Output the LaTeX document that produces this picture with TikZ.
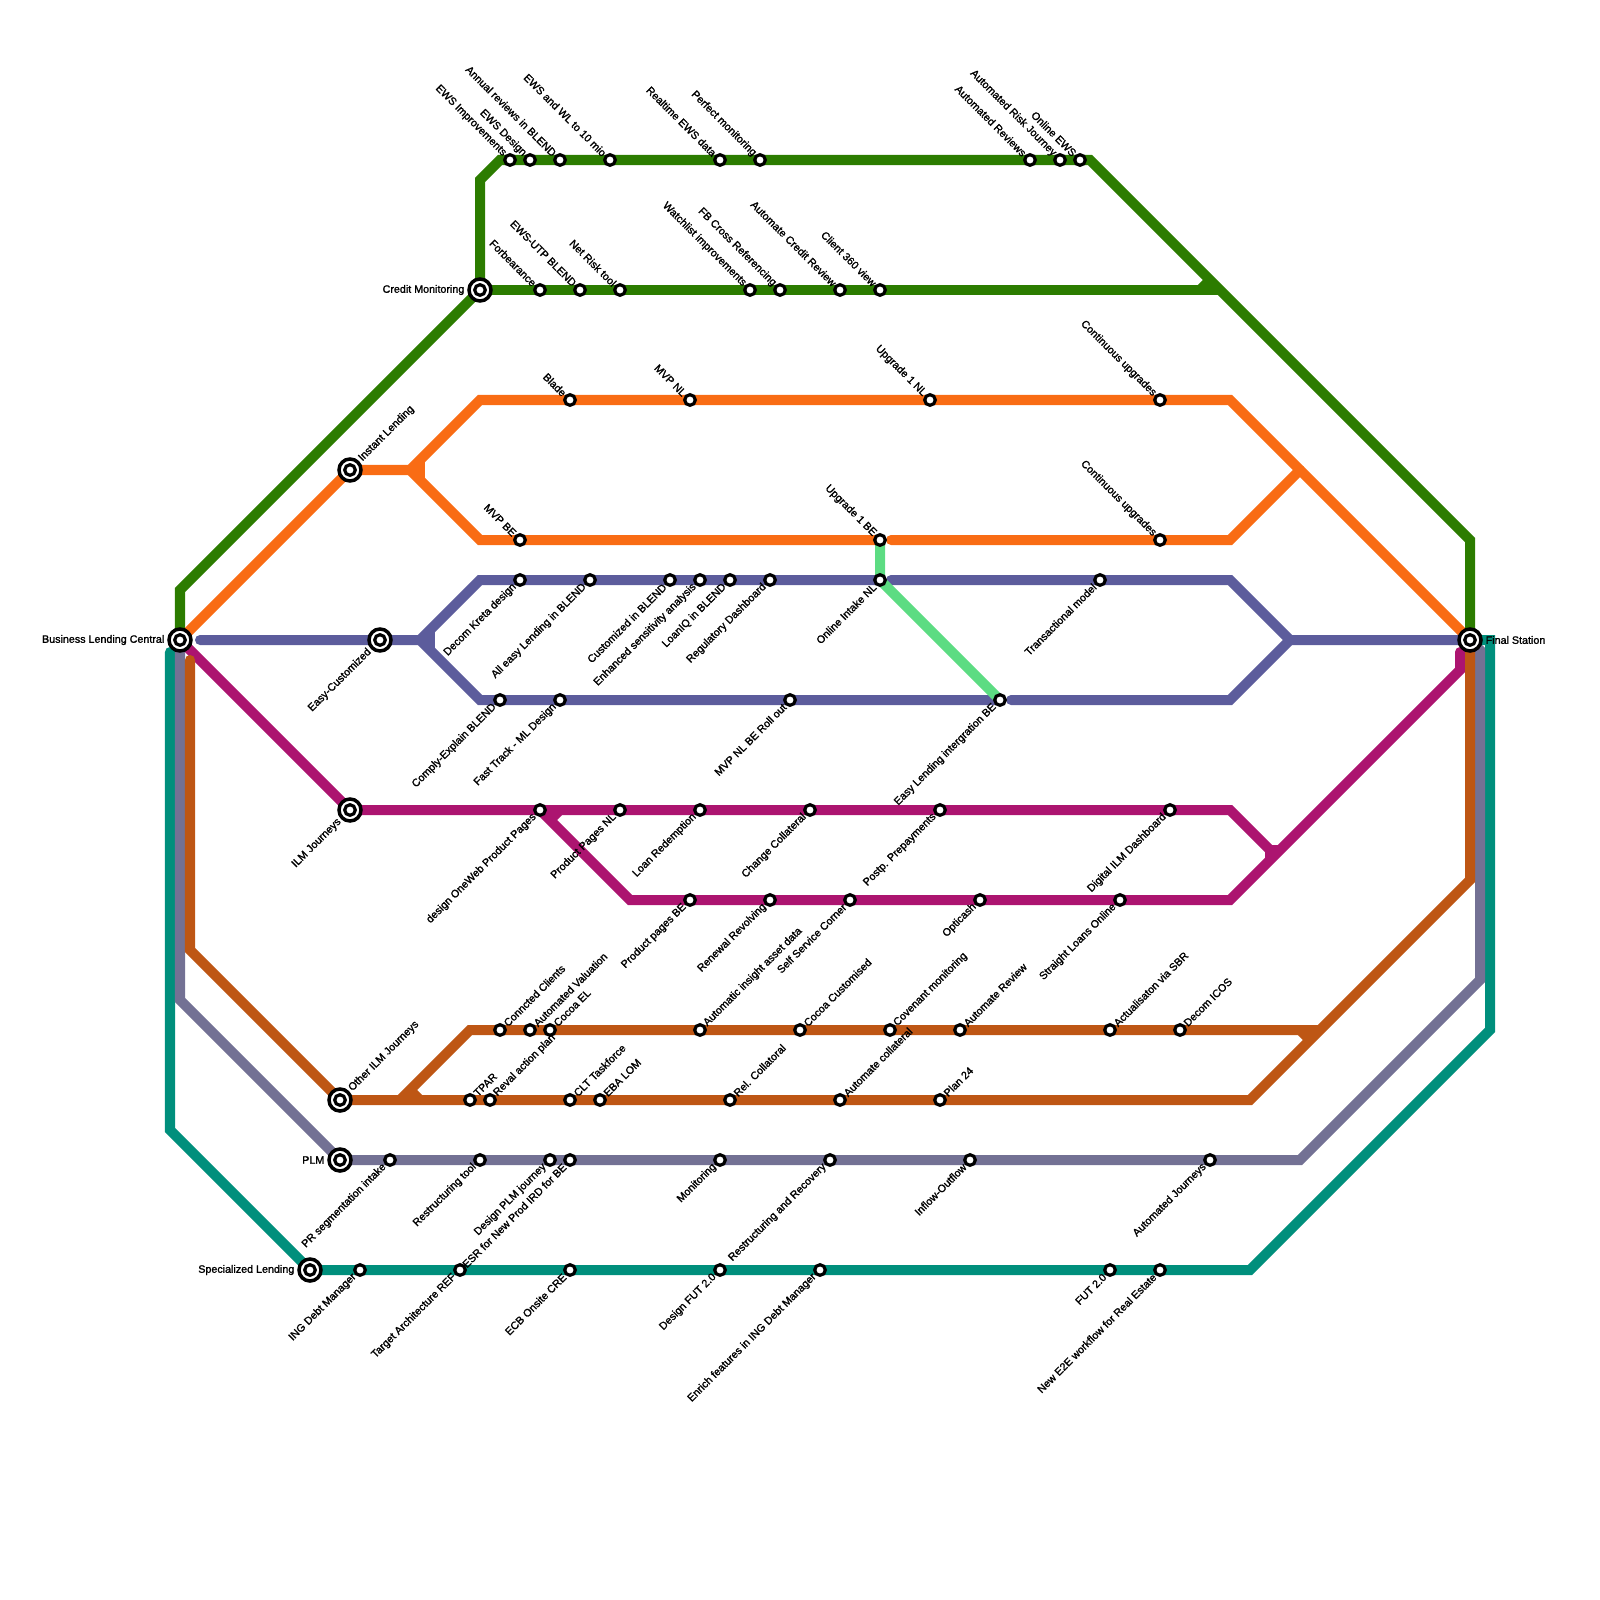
\documentclass[tikz,border=0pt]{standalone}
\usepackage{fontspec}
\usetikzlibrary{positioning, calc}
\newfontfamily\lblfont{Liberation Sans}[FakeBold=1.5]
\pgfdeclarelayer{lines}
\pgfsetlayers{lines,main}
\definecolor{lnGreen}{RGB}{44,124,0}
\definecolor{lnOrange}{RGB}{249,108,20}
\definecolor{lnBlue}{RGB}{92,92,156}
\definecolor{lnMint}{RGB}{92,220,130}
\definecolor{lnMagenta}{RGB}{172,20,112}
\definecolor{lnBrown}{RGB}{190,86,20}
\definecolor{lnGrey}{RGB}{115,113,148}
\definecolor{lnTeal}{RGB}{0,143,124}
\tikzset{
    metro/.style={line width=0.1cm, miter limit=10},
    stn/.style={circle, draw=black, fill=white, line width=0.032cm, minimum size=0.106cm, inner sep=0pt},
    hub/.style={circle, draw=black, fill=white, line width=0.035cm, minimum size=0.22cm, inner sep=0pt},
    lbl/.style={font={\lblfont\fontsize{3.05}{3.6}\selectfont}, inner sep=0pt, text=black},
    lblnw/.style={lbl, rotate=-45, anchor=east},
    lblsw/.style={lbl, rotate=45, anchor=east},
    lblne/.style={lbl, rotate=45, anchor=west},
    lblw/.style={lbl, anchor=east},
    lble/.style={lbl, anchor=west}
}
\begin{document}
\begin{tikzpicture}[x=0.01cm, y=-0.01cm]
    \useasboundingbox (0,0) rectangle (1600,1600);
    % Hubs
    \foreach \nm/\xx/\yy in {central/180/640, credit/480/290, instant/350/470, easy/380/640,
        ilm/350/810, otherilm/340/1100, plm/340/1160, spec/310/1270, final/1470/640} {
        \node[hub] (\nm) at (\xx,\yy) {};
        \node[stn] (\nm-i) at (\xx,\yy) {};
    }
    \node[lblw] (central-l) at ($(central)+(-15,0)$) {Business Lending Central};
    \node[lblw] (credit-l) at ($(credit)+(-15,0)$) {Credit Monitoring};
    \node[lblne] (instant-l) at ($(instant)+(10,-10)$) {Instant Lending};
    \node[lblsw] (easy-l) at ($(easy)+(-10,10)$) {Easy-Customized};
    \node[lblsw] (ilm-l) at ($(ilm)+(-10,10)$) {ILM Journeys};
    \node[lblne] (otherilm-l) at ($(otherilm)+(10,-10)$) {Other ILM Journeys};
    \node[lblw] (plm-l) at ($(plm)+(-15,0)$) {PLM};
    \node[lblw] (spec-l) at ($(spec)+(-15,0)$) {Specialized Lending};
    \node[lble] (final-l) at ($(final)+(15,0)$) {Final Station};
    % Green, upper row
    \foreach \nm/\xx/\txt in {ewsimp/510/EWS Improvements, ewsdes/530/EWS Design,
        annual/560/Annual reviews in BLEND, ewswl/610/EWS and WL to 10 mio,
        realtime/720/Realtime EWS data, perfect/760/Perfect monitoring,
        autorev/1030/Automated Reviews, autorisk/1060/Automated Risk Journey, onlineews/1080/Online EWS} {
        \node[stn] (\nm) at (\xx,160) {};
        \node[lblnw] (\nm-l) at ($(\nm)+(-5,-5)$) {\txt};
    }
    % Green, lower row
    \foreach \nm/\xx/\txt in {forbear/540/Forbearance, ewsutp/580/EWS-UTP BLEND, netrisk/620/Net Risk tool,
        watch/750/Watchlist improvements, fbcross/780/FB Cross Referencing,
        autocredit/840/Automate Credit Review, client/880/Client 360 view} {
        \node[stn] (\nm) at (\xx,290) {};
        \node[lblnw] (\nm-l) at ($(\nm)+(-5,-5)$) {\txt};
    }
    % Orange
    \foreach \nm/\xx/\yy/\txt in {blade/570/400/Blade, mvpnl/690/400/MVP NL, uponenl/930/400/Upgrade 1 NL,
        contup/1160/400/Continuous upgrades, mvpbe/520/540/MVP BE, uponebe/880/540/Upgrade 1 BE,
        contdn/1160/540/Continuous upgrades} {
        \node[stn] (\nm) at (\xx,\yy) {};
        \node[lblnw] (\nm-l) at ($(\nm)+(-5,-5)$) {\txt};
    }
    % Blue
    \foreach \nm/\xx/\yy/\txt in {decom/520/580/Decom Kreta design, alleasy/590/580/All easy Lending in BLEND,
        custom/670/580/Customized in BLEND, enhanced/700/580/Enhanced sensitivity analysis,
        loaniq/730/580/LoanIQ in BLEND, regdash/770/580/Regulatory Dashboard, intake/880/580/Online Intake NL,
        transact/1100/580/Transactional model, comply/500/700/Comply-Explain BLEND,
        fasttrack/560/700/Fast Track - ML Design, rollout/790/700/MVP NL BE Roll out,
        easylend/1000/700/Easy Lending intergration BE} {
        \node[stn] (\nm) at (\xx,\yy) {};
        \node[lblsw] (\nm-l) at ($(\nm)+(-5,5)$) {\txt};
    }
    % Magenta
    \foreach \nm/\xx/\yy/\txt in {oneweb/540/810/design OneWeb Product Pages, pagesnl/620/810/Product Pages NL,
        redeem/700/810/Loan Redemption, collat/810/810/Change Collateral, postp/940/810/Postp. Prepayments,
        digilm/1170/810/Digital ILM Dashboard, pagesbe/690/900/Product pages BE, renewal/770/900/Renewal Revolving,
        selfserv/850/900/Self Service Corner, opticash/980/900/Opticash, straight/1120/900/Straight Loans Online} {
        \node[stn] (\nm) at (\xx,\yy) {};
        \node[lblsw] (\nm-l) at ($(\nm)+(-5,5)$) {\txt};
    }
    % Brown
    \foreach \nm/\xx/\yy/\txt in {conncl/500/1030/Conncted Clients, autoval/530/1030/Automated Valuation,
        cocoael/550/1030/Cocoa EL, insight/700/1030/Automatic insight asset data, cocoacu/800/1030/Cocoa Customised,
        covenant/890/1030/Covenant monitoring, autoreview/960/1030/Automate Review,
        actual/1110/1030/Actualisaton via SBR, icos/1180/1030/Decom ICOS, tpar/470/1100/TPAR,
        reval/490/1100/Reval action plan, clt/570/1100/CLT Taskforce, ebalom/600/1100/EBA LOM,
        relcol/730/1100/Rel. Collatoral, autocol/840/1100/Automate collateral, plan/940/1100/Plan 24} {
        \node[stn] (\nm) at (\xx,\yy) {};
        \node[lblne] (\nm-l) at ($(\nm)+(5,-5)$) {\txt};
    }
    % Grey and teal
    \foreach \nm/\xx/\yy/\txt in {prseg/390/1160/PR segmentation intake, restool/480/1160/Restructuring tool,
        desplm/550/1160/Design PLM journey, esr/570/1160/ESR for New Prod IRD for BE, monit/720/1160/Monitoring,
        restrec/830/1160/Restructuring and Recovery, inflow/970/1160/Inflow-Outflow, autojrn/1210/1160/Automated Journeys,
        ingdebt/360/1270/ING Debt Manager, target/460/1270/Target Architecture REF, ecb/570/1270/ECB Onsite CRE,
        desfut/720/1270/Design FUT 2.0, enrich/820/1270/Enrich features in ING Debt Manager,
        fut/1110/1270/FUT 2.0, newe2e/1160/1270/New E2E workflow for Real Estate} {
        \node[stn] (\nm) at (\xx,\yy) {};
        \node[lblsw] (\nm-l) at ($(\nm)+(-5,5)$) {\txt};
    }
    % Bends
    \coordinate (gA) at (180,590);  \coordinate (gB) at (480,180);  \coordinate (gC) at (500,160);
    \coordinate (gD) at (1090,160); \coordinate (gE) at (1470,540); \coordinate (gF) at (1220,290);
    \coordinate (gG) at (1200,290); \coordinate (gH) at (1210,280);
    \coordinate (oA) at (410,470);  \coordinate (oB) at (480,400);  \coordinate (oC) at (1230,400);
    \coordinate (oD) at (480,540);  \coordinate (oE) at (420,460);  \coordinate (oF) at (420,480);
    \coordinate (oG) at (1230,540); \coordinate (oH) at (1300,470); \coordinate (oJ) at (891,540);
    \coordinate (bA) at (420,640);  \coordinate (bB) at (480,580);  \coordinate (bC) at (480,700);
    \coordinate (bD) at (430,630);  \coordinate (bE) at (430,650);  \coordinate (bF) at (891,580);
    \coordinate (bG) at (1230,580); \coordinate (bH) at (1290,640); \coordinate (bI) at (1011,700);
    \coordinate (bJ) at (1230,700); \coordinate (bK) at (200,640);
    \coordinate (mA) at (1230,810); \coordinate (mB) at (1270,850); \coordinate (mC) at (1280,850);
    \coordinate (mD) at (1270,860); \coordinate (mF) at (630,900);  \coordinate (mG) at (1230,900);
    \coordinate (mH) at (1460,670); \coordinate (mI) at (1460,652); \coordinate (mJ) at (560,810);
    \coordinate (mK) at (550,820);
    \coordinate (rA) at (190,660);  \coordinate (rB) at (190,950);  \coordinate (rC) at (1250,1100);
    \coordinate (rD) at (1470,880); \coordinate (rE) at (400,1100); \coordinate (rF) at (470,1030);
    \coordinate (rG) at (1320,1030);\coordinate (rH) at (1300,1030);\coordinate (rI) at (1310,1040);
    \coordinate (rJ) at (410,1090); \coordinate (rK) at (420,1100);
    \coordinate (pA) at (180,1000); \coordinate (pB) at (1300,1160);\coordinate (pC) at (1480,980);
    \coordinate (pD) at (1480,650);
    \coordinate (tA) at (170,652);  \coordinate (tB) at (170,1130); \coordinate (tC) at (1250,1270);
    \coordinate (tD) at (1490,1030);\coordinate (tE) at (1490,640);
    % Lines, under the stations
    \begin{pgfonlayer}{lines}
        \draw[metro, lnGreen] (central.center) -- (gA) -- (credit.center) -- (gB) -- (gC) -- (gD) -- (gE) -- (final.center);
        \draw[metro, lnGreen] (credit.center) -- (gF);
        \draw[metro, lnGreen] (gG) -- (gH);
        \draw[metro, lnOrange] (central.center) -- (instant.center) -- (oA) -- (oB) -- (oC) -- (final.center);
        \draw[metro, lnOrange] (oA) -- (oD) -- (uponebe.center);
        \draw[metro, lnOrange] (oE) -- (oF);
        \draw[metro, lnOrange, line cap=round] (oJ) -- (oG) -- (oH);
        \draw[metro, lnBlue, line cap=round] (bK) -- (easy.center) -- (bA) -- (bB) -- (intake.center);
        \draw[metro, lnBlue] (bA) -- (bC) -- (easylend.center);
        \draw[metro, lnBlue] (bD) -- (bE);
        \draw[metro, lnBlue, line cap=round] (bF) -- (bG) -- (bH) -- (final.center);
        \draw[metro, lnBlue, line cap=round] (bI) -- (bJ) -- (bH);
        \draw[metro, lnMint] (uponebe.center) -- (intake.center) -- (easylend.center);
        \draw[metro, lnMagenta] (central.center) -- (ilm.center) -- (mA) -- (mB) -- (mC);
        \draw[metro, lnMagenta] (mB) -- (mD);
        \draw[metro, lnMagenta] (mJ) -- (mK);
        \draw[metro, lnMagenta, line cap=round] (oneweb.center) -- (mF) -- (mG) -- (mH) -- (mI);
        \draw[metro, lnTeal, line cap=round] (tA) -- (tB) -- (spec.center) -- (tC) -- (tD) -- (tE) -- (final.center);
        \draw[metro, lnGrey] (central.center) -- (pA) -- (plm.center) -- (pB) -- (pC) -- (pD) -- (final.center);
        \draw[metro, lnBrown, line cap=round] (rA) -- (rB) -- (otherilm.center) -- (rC) -- (rD) -- (final.center);
        \draw[metro, lnBrown] (rE) -- (rF) -- (rG);
        \draw[metro, lnBrown] (rH) -- (rI);
        \draw[metro, lnBrown] (rJ) -- (rK);
    \end{pgfonlayer}
\end{tikzpicture}
\end{document}
